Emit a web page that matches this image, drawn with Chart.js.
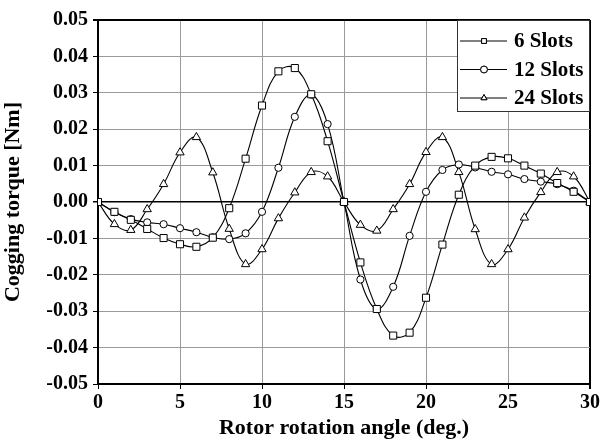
<!DOCTYPE html>
<html>
<head>
<meta charset="utf-8">
<script src="https://cdn.jsdelivr.net/npm/chart.js@4"></script>
<style>
  html, body { margin: 0; padding: 0; background: #fff; }
  #wrap { width: 602px; height: 442px; }
</style>
</head>
<body>
<div id="wrap"><canvas id="c" width="602" height="442"></canvas></div>
<script>
// Rastwinkel in Grad, ein Messpunkt je Grad
const ANGLES = [0,1,2,3,4,5,6,7,8,9,10,11,12,13,14,15,16,17,18,19,20,21,22,23,24,25,26,27,28,29,30];

// Rastmoment [Nm] je Nutzahl
const SLOTS_6  = [0,-0.0027,-0.0049,-0.0074,-0.0099,-0.0116,-0.0123,-0.0098,-0.0017,0.0119,0.0265,0.0359,0.0368,0.0296,0.0167,0,
                  -0.0166,-0.0294,-0.0367,-0.0359,-0.0263,-0.0117,0.0020,0.0100,0.0124,0.0120,0.0100,0.0078,0.0052,0.0028,0];
const SLOTS_12 = [0,-0.0028,-0.0047,-0.0056,-0.0061,-0.0072,-0.0083,-0.0097,-0.0102,-0.0086,-0.0027,0.0094,0.0234,0.0295,0.0214,0,
                  -0.0213,-0.0294,-0.0233,-0.0093,0.0028,0.0088,0.0103,0.0095,0.0083,0.0076,0.0063,0.0056,0.0049,0.0031,0];
const SLOTS_24 = [0,-0.0061,-0.0077,-0.0020,0.0049,0.0136,0.0178,0.0081,-0.0074,-0.0171,-0.0130,-0.0045,0.0026,0.0082,0.0070,0,
                  -0.0063,-0.0079,-0.0020,0.0049,0.0137,0.0178,0.0082,-0.0075,-0.0171,-0.0130,-0.0043,0.0027,0.0082,0.0070,0];

const SERIES = [
  { label: "6 Slots",  values: SLOTS_6,  style: "rect",     r: 5 },
  { label: "12 Slots", values: SLOTS_12, style: "circle",   r: 3.6 },
  { label: "24 Slots", values: SLOTS_24, style: "triangle", r: 4.8 },
];

const FONT = "'Liberation Serif', 'Times New Roman', serif";

// Legende im Diagramm oben rechts: Linie - Symbol - Linie + Text
const boxLegend = {
  id: "boxLegend",
  afterDatasetsDraw(chart) {
    const { ctx, chartArea } = chart;
    const w = 133, h = 92;
    const x0 = chartArea.right - w, y0 = chartArea.top;
    ctx.save();
    ctx.fillStyle = "#fff";
    ctx.fillRect(x0, y0, w, h);
    ctx.strokeStyle = "#333";
    ctx.lineWidth = 1;
    ctx.strokeRect(x0 + 0.5, y0 + 0.5, w - 1, h - 1);
    SERIES.forEach((s, i) => {
      const cy = y0 + 21 + i * 28.5;
      ctx.strokeStyle = "#000";
      ctx.lineWidth = 1;
      ctx.beginPath();
      ctx.moveTo(x0 + 3, cy); ctx.lineTo(x0 + 50, cy);
      ctx.stroke();
      ctx.fillStyle = "#fff";
      Chart.helpers.drawPoint(ctx, { pointStyle: s.style, radius: 3.4, borderWidth: 1 }, x0 + 27, cy);
      ctx.fill();
      ctx.stroke();
      ctx.fillStyle = "#000";
      ctx.font = "bold 21px " + FONT;
      ctx.textBaseline = "middle";
      ctx.textAlign = "left";
      ctx.fillText(s.label, x0 + 57, cy + 1);
    });
    ctx.restore();
  }
};

const gridCol = (edgeVals) => (c) => {
  const v = c.tick ? c.tick.value : null;
  if (v !== null && edgeVals.some(e => Math.abs(v - e) < 1e-9)) return "#000";
  return "#9a9a9a";
};

new Chart(document.getElementById("c"), {
  type: "line",
  data: {
    datasets: SERIES.map(s => ({
      label: s.label,
      data: ANGLES.map((a, i) => ({ x: a, y: s.values[i] })),
      borderColor: "#000",
      borderWidth: 1.1,
      backgroundColor: "#fff",
      pointStyle: s.style,
      pointRadius: s.r,
      pointBackgroundColor: "#fff",
      pointBorderColor: "#000",
      pointBorderWidth: 1,
      tension: 0.4,
      fill: false
    }))
  },
  options: {
    responsive: false,
    animation: false,
    devicePixelRatio: 1,
    layout: { padding: { left: 0, right: 12, top: 20, bottom: 0 } },
    scales: {
      x: {
        type: "linear", min: 0, max: 30,
        ticks: { stepSize: 5, color: "#000", font: { family: FONT, size: 20, weight: "bold" }, padding: 2, maxRotation: 0 },
        grid: { color: gridCol([30]), lineWidth: c => (c.tick && c.tick.value === 30 ? 2 : 1), tickLength: 5, tickColor: "#000" },
        border: { color: "#000", width: 2 },
        title: { display: true, text: "Rotor rotation angle (deg.)", color: "#000",
                 font: { family: FONT, size: 22, weight: "bold" }, padding: { top: 0, bottom: 0 } },
        afterFit: s => { s.height = 58; }
      },
      y: {
        min: -0.05, max: 0.05,
        ticks: { stepSize: 0.01, color: "#000", font: { family: FONT, size: 20, weight: "bold" }, padding: 5,
                 callback: v => (Math.abs(v) < 1e-9 ? "0.00" : v.toFixed(2)) },
        grid: { color: gridCol([0, 0.05]), lineWidth: c => (c.tick && Math.abs(c.tick.value) < 1e-9 ? 1.5 : (c.tick && c.tick.value > 0.0499 ? 2 : 1)),
                tickLength: 5, tickColor: "#000" },
        border: { color: "#000", width: 2 },
        title: { display: true, text: "Cogging torque [Nm]", color: "#000",
                 font: { family: FONT, size: 22, weight: "bold" }, padding: { top: 0, bottom: 2 } },
        afterFit: s => { s.width = 98; }
      }
    },
    plugins: {
      legend: { display: false },
      tooltip: { enabled: false }
    }
  },
  plugins: [boxLegend]
});
</script>
</body>
</html>
